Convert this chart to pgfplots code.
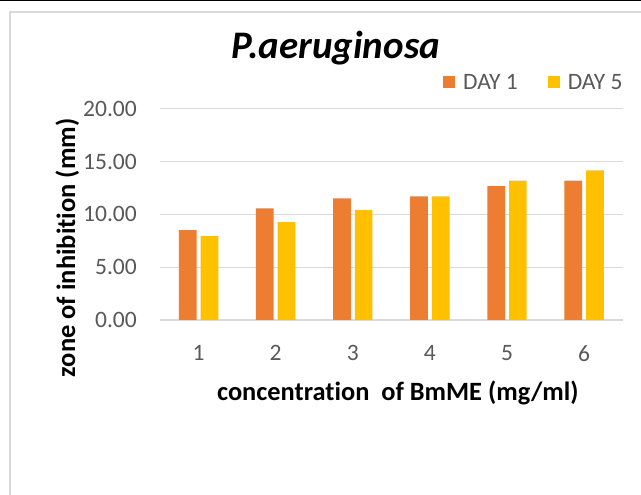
\documentclass[border=0pt]{standalone}
\usepackage{fontspec}
\setmainfont{Carlito}[Ligatures=NoCommon]
\usepackage{pgfplots}
\pgfplotsset{compat=1.18}
\definecolor{orng}{HTML}{ED7D31}
\definecolor{yel}{HTML}{FFC000}
\definecolor{gridc}{HTML}{D9D9D9}
\definecolor{txt}{HTML}{595959}
\begin{document}
\begin{tikzpicture}[x=1bp,y=1bp]
\useasboundingbox (0,0) rectangle (641,495);
\fill[white] (0,0) rectangle (641,495);
\draw[black, line width=1.5bp] (0,494.25) -- (641,494.25);
\draw[gridc, line width=1.2bp] (10,0) -- (10,483) -- (641,483);
\begin{axis}[
  at={(160bp,175bp)}, anchor=south west,
  scale only axis, width=462.7bp, height=211.3bp,
  ybar=4bp, bar width=17.7bp,
  xmin=0.5, xmax=6.5, ymin=0, ymax=20,
  xtick={1,2,3,4,5,6}, ytick={0,5,10,15,20},
  axis line style={draw=none}, tick style={draw=none}, major tick length=0pt,
  ymajorgrids, major grid style={gridc, line width=1.2bp},
  /pgf/number format/assume math mode=true,
  ticklabel style={font=\fontsize{23.5bp}{28bp}\selectfont, text=txt},
  y tick label style={/pgf/number format/.cd, fixed, fixed zerofill, precision=2, /tikz/.cd, anchor=east, inner sep=0pt, xshift=-23bp},
  x tick label style={anchor=north, inner sep=0pt, yshift=-25bp},
  xlabel={concentration\ \ of BmME (mg/ml)},
  xlabel style={at={(axis description cs:0.514,0)}, anchor=base, yshift=-81bp, inner sep=0pt, font=\bfseries\fontsize{26.4bp}{31bp}\selectfont},
  ylabel={zone of inhibition (mm)},
  ylabel style={at={(axis description cs:-0.1837,0.341)}, anchor=base, rotate=0, inner sep=0pt, font=\bfseries\fontsize{26.5bp}{31bp}\selectfont},
  title={P.aeruginosa},
  title style={at={(axis description cs:0.380,1.2115)}, anchor=base, inner sep=0pt, font=\bfseries\itshape\fontsize{39bp}{45bp}\selectfont},
  legend style={at={(axis description cs:0.6116,1.124)}, anchor=west, draw=none, fill=none, inner sep=0pt, font=\fontsize{23.5bp}{28bp}\selectfont, text=txt, nodes={inner sep=0pt},
    /tikz/every odd column/.append style={column sep=8bp},
    /tikz/every even column/.append style={column sep=30bp}},
  legend columns=2,
  legend image code/.code={\fill[#1] (0bp,-6bp) rectangle (12bp,6bp);},
]
\addplot[fill=orng, draw=none] coordinates {(1,8.51) (2,10.57) (3,11.52) (4,11.71) (5,12.66) (6,13.20)};
\addplot[fill=yel, draw=none] coordinates {(1,7.94) (2,9.27) (3,10.41) (4,11.71) (5,13.20) (6,14.15)};
\legend{DAY 1, DAY 5}
\end{axis}
\end{tikzpicture}
\end{document}
